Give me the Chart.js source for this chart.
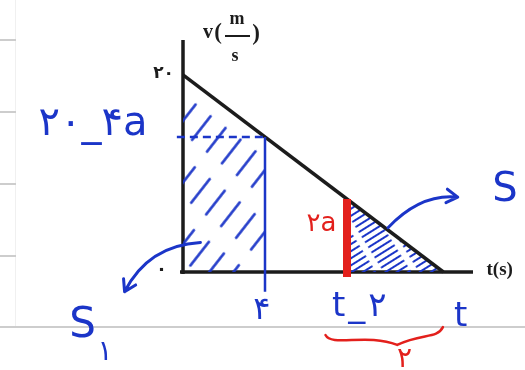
<!DOCTYPE html>
<html>
<head>
<meta charset="utf-8">
<title>v-t</title>
<script src="https://cdn.jsdelivr.net/npm/chart.js@4.4.1/dist/chart.umd.min.js"></script>
<style>
  html, body { margin: 0; padding: 0; background: #fff; }
  #page { position: relative; width: 525px; height: 370px; overflow: hidden; background: #fff; }
  .rule { position: absolute; left: 0; height: 2px; background: #cdcdcd; }
  .edge { position: absolute; left: 15px; top: 0; width: 1px; height: 326px; background: #f0f0f0; }
  #chart { position: absolute; left: 0; top: 0; }
</style>
</head>
<body>
<div id="page">
  <div class="edge"></div>
  <div class="rule" style="top:39px;width:16px"></div>
  <div class="rule" style="top:111px;width:16px"></div>
  <div class="rule" style="top:183px;width:16px"></div>
  <div class="rule" style="top:255px;width:16px"></div>
  <div class="rule" style="top:326px;width:525px"></div>
  <canvas id="chart" width="525" height="370"></canvas>
</div>
<script>
// v(t): straight line from 20 m/s down to zero
const lineT = [0, 12.7];
const lineV = [20, 0];
// the two marked instants (t = 4 and t-2) and the speed there
const markT = [4, 8];
const markV = [13.7, 7.4];
// how far the hand-drawn verticals run below the axis
const dropTo = [-2, -0.5];
const yTickLabels = ['۲۰', '۰'];

const BLUE = '#1b35c8';
const RED = '#e3201c';
const INK = '#1c1c1c';
const HAND = '"DejaVu Sans", sans-serif';
const PRINT = '"Liberation Serif", serif';

const canvas = document.getElementById('chart');
const ctx = canvas.getContext('2d');

// broken diagonal strokes used to shade the areas
function hatch(gap, len, seg, angle, width) {
  const tile = document.createElement('canvas');
  tile.width = len; tile.height = gap;
  const g = tile.getContext('2d');
  g.strokeStyle = BLUE;
  g.lineWidth = width;
  g.lineCap = 'round';
  g.beginPath();
  g.moveTo(seg[0], gap / 2);
  g.lineTo(seg[1], gap / 2);
  g.stroke();
  const p = ctx.createPattern(tile, 'repeat');
  p.setTransform(new DOMMatrix().rotate(angle));
  return p;
}

const pts = (xs, ys) => xs.map((x, i) => ({ x: x, y: ys[i] }));

// axes, tick labels and the pen notes
const notes = {
  id: 'notes',
  beforeDatasetsDraw(chart) {
    const a = chart.chartArea;
    const c = chart.ctx;
    c.save();
    c.strokeStyle = INK;
    c.lineWidth = 3.5;
    c.beginPath();
    c.moveTo(a.left, a.top);
    c.lineTo(a.left, a.bottom + 2);
    c.moveTo(a.left - 3, a.bottom);
    c.lineTo(a.right + 3, a.bottom);
    c.stroke();
    c.restore();
  },
  afterDatasetsDraw(chart) {
    const c = chart.ctx;
    const xs = chart.scales.x, ys = chart.scales.y;
    const X = v => xs.getPixelForValue(v);
    const Y = v => ys.getPixelForValue(v);

    function text(str, x, y, font, color) {
      c.font = font;
      c.fillStyle = color;
      c.textAlign = 'center';
      c.textBaseline = 'middle';
      c.fillText(str, X(x), Y(y));
    }

    c.save();
    // printed labels
    text(yTickLabels[0], -0.95, 20.1, 'bold 17px ' + HAND, INK);
    text(yTickLabels[1], -1.05, 0.15, 'bold 18px ' + HAND, INK);
    text('t(s)', 15.45, 0.15, 'bold 19px ' + PRINT, INK);
    // v(m/s) as a fraction
    c.fillStyle = INK; c.textAlign = 'center'; c.textBaseline = 'middle';
    c.font = 'bold 20px ' + PRINT;
    c.fillText('v', 208, 33);
    c.font = 'bold 23px ' + PRINT;
    c.fillText('(', 218, 33);
    c.fillText(')', 256, 34);
    c.font = 'bold 18px ' + PRINT;
    c.fillText('m', 237, 19);
    c.fillText('s', 235, 56);
    c.fillRect(225, 35, 25, 2);

    // handwriting
    c.letterSpacing = '14px';
    text('۲۰_۴a', -4.05, 15.0, '40px ' + HAND, BLUE);
    c.letterSpacing = '3px';
    text('t_۲', markT[1] + 0.6, -3.6, '34px ' + HAND, BLUE);
    c.letterSpacing = '0px';
    text('S', 15.7, 8.3, '40px ' + HAND, BLUE);
    text('S', -4.9, -5.5, '42px ' + HAND, BLUE);
    text('۱', -3.8, -8.2, '28px ' + HAND, BLUE);
    text('۴', markT[0] - 0.15, -3.9, '32px ' + HAND, BLUE);
    text('t', lineT[1] + 0.85, -4.6, '34px ' + HAND, BLUE);
    text('۲a', markT[1] - 1.25, 4.8, '26px ' + HAND, RED);
    text('۲', 10.8, -8.9, '28px ' + HAND, RED);

    // curved arrows pointing at the two areas
    function arrow(p0, p1, p2) {
      const x0 = X(p0[0]), y0 = Y(p0[1]);
      const x1 = X(p1[0]), y1 = Y(p1[1]);
      const x2 = X(p2[0]), y2 = Y(p2[1]);
      c.strokeStyle = BLUE;
      c.lineWidth = 3;
      c.lineCap = 'round';
      c.beginPath();
      c.moveTo(x0, y0);
      c.quadraticCurveTo(x1, y1, x2, y2);
      const ang = Math.atan2(y2 - y1, x2 - x1);
      for (const s of [-1, 1]) {
        c.moveTo(x2, y2);
        c.lineTo(x2 - 13 * Math.cos(ang + s * 0.55), y2 - 13 * Math.sin(ang + s * 0.55));
      }
      c.stroke();
    }
    arrow([10.0, 4.5], [11.6, 8.0], [13.4, 7.6]);
    arrow([0.85, 3.0], [-1.7, 2.7], [-2.85, -2.0]);

    // red brace under t-2 .. t
    const sx = X(6.95), sy = Y(-6.4), ex = X(12.68), ey = Y(-5.6);
    const tx = X(10.45), ty = Y(-7.4);
    c.strokeStyle = RED;
    c.lineWidth = 2.5;
    c.beginPath();
    c.moveTo(sx, sy);
    c.bezierCurveTo(sx + 6, sy + 12, tx - 30, ty - 12, tx, ty);
    c.moveTo(tx, ty);
    c.bezierCurveTo(tx + 25, ty - 12, ex - 6, ey + 12, ex, ey);
    c.stroke();
    c.restore();
  }
};

new Chart(ctx, {
  type: 'line',
  data: {
    datasets: [
      { // red mark at t-2
        data: pts([markT[1], markT[1]], [markV[1], dropTo[1]]),
        borderColor: RED, borderWidth: 8, borderCapStyle: 'butt', clip: false
      },
      { // blue drop at t = 4
        data: pts([markT[0], markT[0]], [markV[0], dropTo[0]]),
        borderColor: BLUE, borderWidth: 2.5, clip: false
      },
      { // dashed guide to the v axis
        data: pts([-0.3, markT[0]], [markV[0], markV[0]]),
        borderColor: BLUE, borderWidth: 2.5, borderDash: [8, 5], clip: false
      },
      { // v(t)
        data: pts(lineT, lineV),
        borderColor: INK, borderWidth: 3.5, clip: false
      },
      { // S1: area from 0 to 4
        data: pts([lineT[0], markT[0]], [lineV[0], markV[0]]),
        fill: 'origin', borderWidth: 0,
        backgroundColor: hatch(19, 50, [8, 38], -52, 2.6)
      },
      { // S: area from t-2 to t
        data: pts([markT[1], lineT[1]], [markV[1], lineV[1]]),
        fill: 'origin', borderWidth: 0,
        backgroundColor: hatch(6, 30, [2, 24], -32, 2.2)
      }
    ]
  },
  options: {
    responsive: false,
    animation: false,
    layout: { padding: { left: 183, right: 55, top: 40, bottom: 98 } },
    elements: { point: { radius: 0 }, line: { tension: 0 } },
    plugins: { legend: { display: false }, tooltip: { enabled: false } },
    scales: {
      x: { type: 'linear', min: 0, max: 14, display: false },
      y: { min: 0, max: 23.55, display: false }
    }
  },
  plugins: [notes]
});
</script>
</body>
</html>
